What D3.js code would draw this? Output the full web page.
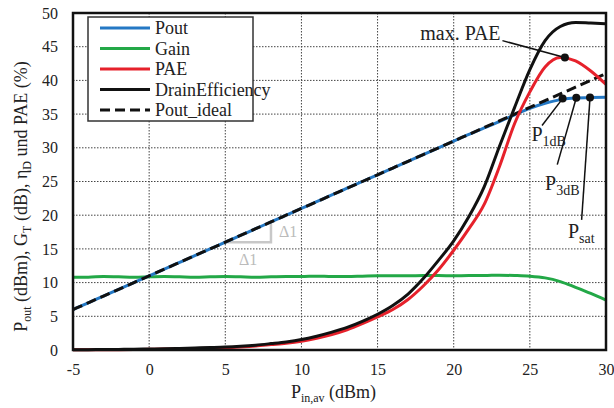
<!DOCTYPE html>
<html>
<head>
<meta charset="utf-8">
<script src="https://cdn.jsdelivr.net/npm/d3@7"></script>
<style>
  body { margin: 0; background: #fff; }
</style>
</head>
<body>
<svg width="614" height="408"></svg>
<script>
// input power axis (dBm)
var pin = [-5, -4, -3, -2, -1, 0, 1, 2, 3, 4, 5, 6, 7, 8, 9, 10, 11, 12, 13, 14, 15,
           16, 17, 18, 19, 20, 21, 22, 23, 24, 25, 26, 27, 28, 29, 30];
var pout = [6, 7, 8, 9, 10, 11, 12, 13, 14, 15, 16, 17, 18, 19, 20, 21, 22, 23, 24, 25, 26,
            27, 28, 29, 30, 31, 32, 32.95, 33.9, 34.9, 35.85, 36.6, 37.15, 37.4, 37.45, 37.5];
var gain = [10.8, 10.8, 10.9, 10.85, 10.8, 10.85, 10.9, 10.85, 10.8, 10.85, 10.9, 10.85, 10.8, 10.85, 10.9, 10.9, 10.95, 10.9, 10.9, 10.95,
            11.0, 11.0, 11.0, 11.05, 11.05, 11.0, 11.05, 11.05, 11.1, 11.05, 10.95, 10.7, 10.15, 9.3, 8.4, 7.4];
var pae = [0.02, 0.03, 0.04, 0.05, 0.07, 0.1, 0.13, 0.17, 0.22, 0.27, 0.33, 0.45, 0.6, 0.8, 1.0, 1.3, 1.75, 2.3, 3.0, 3.9, 4.9,
           6.0, 7.5, 9.5, 11.9, 14.8, 18.0, 21.6, 27.2, 33.6, 38.3, 42.0, 43.4, 42.9, 41.4, 39.4];
var drainEff = [0.03, 0.05, 0.07, 0.09, 0.11, 0.15, 0.19, 0.24, 0.3, 0.36, 0.43, 0.55, 0.72, 0.95, 1.2, 1.55, 2.05, 2.65, 3.35, 4.25, 5.3,
                6.6, 8.3, 10.6, 13.3, 16.2, 19.8, 24.2, 30.2, 36.0, 41.6, 45.9, 48.0, 48.6, 48.5, 48.4];
var poutIdeal = pin.map(function(p) { return p + 11; }); // ideal linear line, slope 1

var xTicks = [-5, 0, 5, 10, 15, 20, 25, 30];
var yTicks = [0, 5, 10, 15, 20, 25, 30, 35, 40, 45, 50];

var seriesNames = ["Pout", "Gain", "PAE", "DrainEfficiency", "Pout_ideal"];
var seriesColors = ["#2478c4", "#23a847", "#e6212b", "#111111", "#111111"];

// annotated points (Pin, value)
var maxPae = [27.3, 43.4];
var p1dB = [27.15, 37.3];
var p3dB = [28.05, 37.42];
var pSat = [28.95, 37.45];

var FONT = "'Liberation Serif', 'DejaVu Serif', serif";

var margin = {top: 13, right: 8, bottom: 58, left: 73},
    width = 614 - margin.left - margin.right,
    height = 408 - margin.top - margin.bottom;

var x = d3.scaleLinear().domain([-5, 30]).range([0, width]);
var y = d3.scaleLinear().domain([0, 50]).range([height, 0]);

var svg = d3.select("svg")
  .append("g")
  .style("font-family", FONT)
  .attr("transform", "translate(" + margin.left + "," + margin.top + ")");

// grid
svg.append("g").selectAll("line").data(xTicks.slice(1, -1)).enter().append("line")
  .attr("x1", function(d) { return x(d); }).attr("x2", function(d) { return x(d); })
  .attr("y1", 0).attr("y2", height)
  .attr("stroke", "#444").attr("stroke-width", 1).attr("stroke-dasharray", "1.5,1.5");
svg.append("g").selectAll("line").data(yTicks.slice(1, -1)).enter().append("line")
  .attr("y1", function(d) { return y(d); }).attr("y2", function(d) { return y(d); })
  .attr("x1", 0).attr("x2", width)
  .attr("stroke", "#444").attr("stroke-width", 1).attr("stroke-dasharray", "1.5,1.5");

// axes
var xAxis = svg.append("g")
  .attr("transform", "translate(0," + height + ")")
  .call(d3.axisBottom(x).tickValues(xTicks).tickSize(0).tickPadding(14).tickFormat(function(d) { return String(d); }));
var yAxis = svg.append("g")
  .call(d3.axisLeft(y).tickValues(yTicks).tickSize(0).tickPadding(15));
[xAxis, yAxis].forEach(function(a) {
  a.attr("font-family", null);
  a.select(".domain").remove();
  a.selectAll("text").attr("font-size", 16).style("font-family", FONT).attr("fill", "#222");
});

// slope triangle
var tri = [[5, 16], [8, 16], [8, 19]];
svg.append("path")
  .attr("d", d3.line().x(function(d) { return x(d[0]); }).y(function(d) { return y(d[1]); })(tri))
  .attr("fill", "none").attr("stroke", "#c8c8c8").attr("stroke-width", 2.5);
svg.append("text").attr("x", x(8) + 8).attr("y", y(17.5) + 5)
  .attr("font-size", 16).attr("fill", "#bbb").text("\u03941");
svg.append("text").attr("x", x(6.5)).attr("y", y(16) + 23).attr("text-anchor", "middle")
  .attr("font-size", 16).attr("fill", "#bbb").text("\u03941");

// curves
function makeLine(vals) {
  return d3.line()
    .x(function(d, i) { return x(pin[i]); })
    .y(function(d) { return y(d); })
    .curve(d3.curveMonotoneX)(vals);
}
var curves = [
  {v: gain, c: seriesColors[1]},
  {v: pout, c: seriesColors[0]},
  {v: poutIdeal, c: seriesColors[4], dash: "10,5"},
  {v: pae, c: seriesColors[2]},
  {v: drainEff, c: seriesColors[3]}
];
curves.forEach(function(k) {
  svg.append("path")
    .attr("d", makeLine(k.v))
    .attr("fill", "none")
    .attr("stroke", k.c)
    .attr("stroke-width", 3)
    .attr("stroke-dasharray", k.dash || null);
});

// annotations
var notes = [
  {pt: maxPae, from: [23.2, 45.9], label: "max. PAE", sub: "", lx: 17.8, ly: 46.0},
  {pt: p1dB, from: [25.8, 33.3], label: "P", sub: "1dB", lx: 25.1, ly: 31.0},
  {pt: p3dB, from: [26.8, 27.5], label: "P", sub: "3dB", lx: 26.0, ly: 23.8},
  {pt: pSat, from: [28.4, 19.3], label: "P", sub: "sat", lx: 27.5, ly: 16.6}
];
notes.forEach(function(n) {
  svg.append("line")
    .attr("x1", x(n.from[0])).attr("y1", y(n.from[1]))
    .attr("x2", x(n.pt[0])).attr("y2", y(n.pt[1]))
    .attr("stroke", "#111").attr("stroke-width", 1.5);
  svg.append("circle").attr("cx", x(n.pt[0])).attr("cy", y(n.pt[1])).attr("r", 4).attr("fill", "#111");
  var t = svg.append("text").attr("x", x(n.lx)).attr("y", y(n.ly))
    .attr("font-size", 20).attr("fill", "#222").text(n.label);
  if (n.sub) t.append("tspan").attr("font-size", 14).attr("dy", 5).text(n.sub);
});

// frame
svg.append("rect").attr("x", 0).attr("y", 0).attr("width", width).attr("height", height)
  .attr("fill", "none").attr("stroke", "#111").attr("stroke-width", 2.5);

// legend
var lg = svg.append("g").attr("transform", "translate(15,4)");
lg.append("rect").attr("width", 165).attr("height", 104)
  .attr("fill", "#fff").attr("stroke", "#333").attr("stroke-width", 1.5);
seriesNames.forEach(function(name, i) {
  var yy = 11 + i * 20.5;
  lg.append("line").attr("x1", 12).attr("x2", 62).attr("y1", yy).attr("y2", yy)
    .attr("stroke", seriesColors[i]).attr("stroke-width", 3)
    .attr("stroke-dasharray", name === "Pout_ideal" ? "10,5" : null);
  lg.append("text").attr("x", 67).attr("y", yy + 6)
    .attr("font-size", 18).attr("fill", "#222").text(name);
});

// axis titles
var xt = svg.append("text").attr("x", width / 2 - 6).attr("y", height + 48)
  .attr("text-anchor", "middle").attr("font-size", 18).attr("fill", "#222");
xt.append("tspan").text("P");
xt.append("tspan").attr("font-size", 12).attr("dy", 4).text("in,av");
xt.append("tspan").attr("dy", -4).text(" (dBm)");

var yt = svg.append("text")
  .attr("transform", "translate(-46," + (height / 2 + 15) + ") rotate(-90)")
  .attr("text-anchor", "middle").attr("font-size", 18).attr("fill", "#222");
yt.append("tspan").text("P");
yt.append("tspan").attr("font-size", 12).attr("dy", 4).text("out");
yt.append("tspan").attr("dy", -4).text(" (dBm),  G");
yt.append("tspan").attr("font-size", 12).attr("dy", 4).text("T");
yt.append("tspan").attr("dy", -4).text(" (dB), \u03b7");
yt.append("tspan").attr("font-size", 12).attr("dy", 4).text("D");
yt.append("tspan").attr("dy", -4).text(" und PAE (%)");
</script>
</body>
</html>
